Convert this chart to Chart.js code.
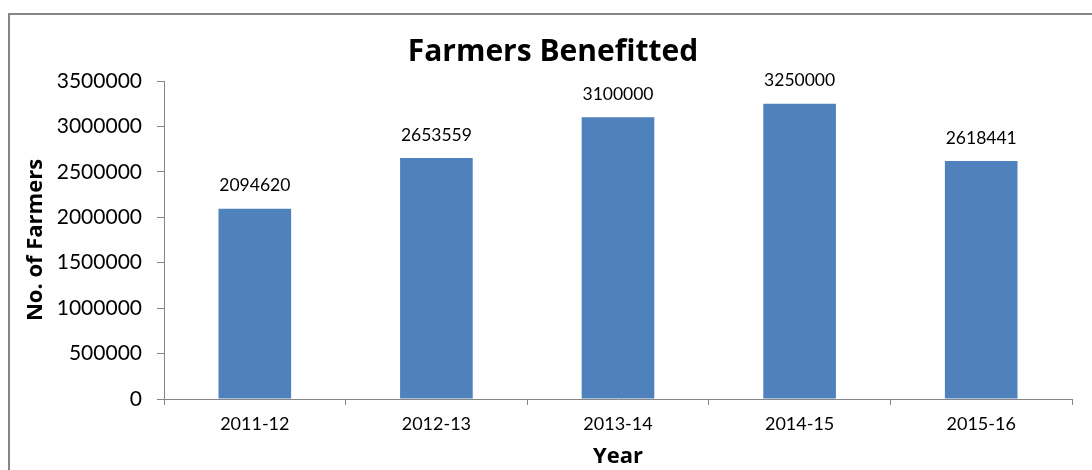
<!DOCTYPE html>
<html>
<head>
<meta charset="utf-8">
<script src="https://cdn.jsdelivr.net/npm/chart.js@4"></script>
<style>
  body { margin: 0; background: #fff; overflow: hidden; }
</style>
</head>
<body>
<canvas id="graph" width="1092" height="470"></canvas>
<script>
// データ
var years = ['2011-12', '2012-13', '2013-14', '2014-15', '2015-16'];
var farmers = [2094620, 2653559, 3100000, 3250000, 2618441];
var yTicks = [0, 500000, 1000000, 1500000, 2000000, 2500000, 3000000, 3500000];

var axisGray = '#868686';
var boldFont = "'Open Sans'";

// 外枠
var framePlugin = {
  id: 'frame',
  beforeDraw: function(chart) {
    var ctx = chart.ctx;
    ctx.save();
    ctx.strokeStyle = axisGray;
    ctx.lineWidth = 2;
    ctx.strokeRect(9, 14, 1200, 1000);
    ctx.restore();
  }
};

// 棒の上の数値
var valueLabels = {
  id: 'valueLabels',
  afterDatasetsDraw: function(chart) {
    var ctx = chart.ctx;
    var meta = chart.getDatasetMeta(0);
    ctx.save();
    ctx.font = '17.5px Lato';
    ctx.fillStyle = '#000';
    ctx.textAlign = 'center';
    ctx.textBaseline = 'middle';
    meta.data.forEach(function(bar, i) {
      ctx.fillText(String(chart.data.datasets[0].data[i]), bar.x, bar.y - 23);
    });
    ctx.restore();
  }
};

window.onload = function() {
  Chart.defaults.font.family = 'Lato';
  Chart.defaults.color = '#000';
  var ctx = document.getElementById('graph').getContext('2d');
  var config = {
    type: 'bar',
    data: {
      labels: years,
      datasets: [{
        label: 'No. of Farmers',
        data: farmers,
        backgroundColor: '#4F81BD',
        categoryPercentage: 1,
        barPercentage: 0.4
      }]
    },
    options: {
      responsive: false,
      animation: false,
      layout: { padding: { left: 34, right: 20, top: 0, bottom: 0 } },
      plugins: {
        legend: { display: false },
        tooltip: { enabled: false },
        title: {
          display: true,
          text: 'Farmers Benefitted',
          color: '#000',
          font: { family: boldFont, size: 30, weight: 'bold' },
          padding: { top: 34, bottom: 11 }
        }
      },
      scales: {
        x: {
          afterFit: function(s) { s.height = 71; },
          grid: { drawOnChartArea: false, tickLength: 6, color: axisGray, offset: true },
          border: { color: axisGray, width: 1 },
          ticks: { font: { size: 18 }, padding: 8, color: '#000' },
          title: { display: true, text: 'Year', font: { family: boldFont, size: 22, weight: 'bold' }, padding: { top: 0, bottom: 0 } }
        },
        y: {
          min: 0,
          max: 3500000,
          afterFit: function(s) { s.width = 130; },
          afterBuildTicks: function(s) { s.ticks = yTicks.map(function(v) { return { value: v }; }); },
          grid: { drawOnChartArea: false, tickLength: 7, color: axisGray },
          border: { color: axisGray, width: 1 },
          ticks: { font: { size: 21 }, padding: 15, color: '#000', callback: function(v) { return String(v); } },
          title: { display: true, text: 'No. of Farmers', font: { family: boldFont, size: 22, weight: 'bold' }, padding: { top: -11, bottom: 0 } }
        }
      }
    },
    plugins: [framePlugin, valueLabels]
  };
  new Chart(ctx, config);
};
</script>
</body>
</html>
